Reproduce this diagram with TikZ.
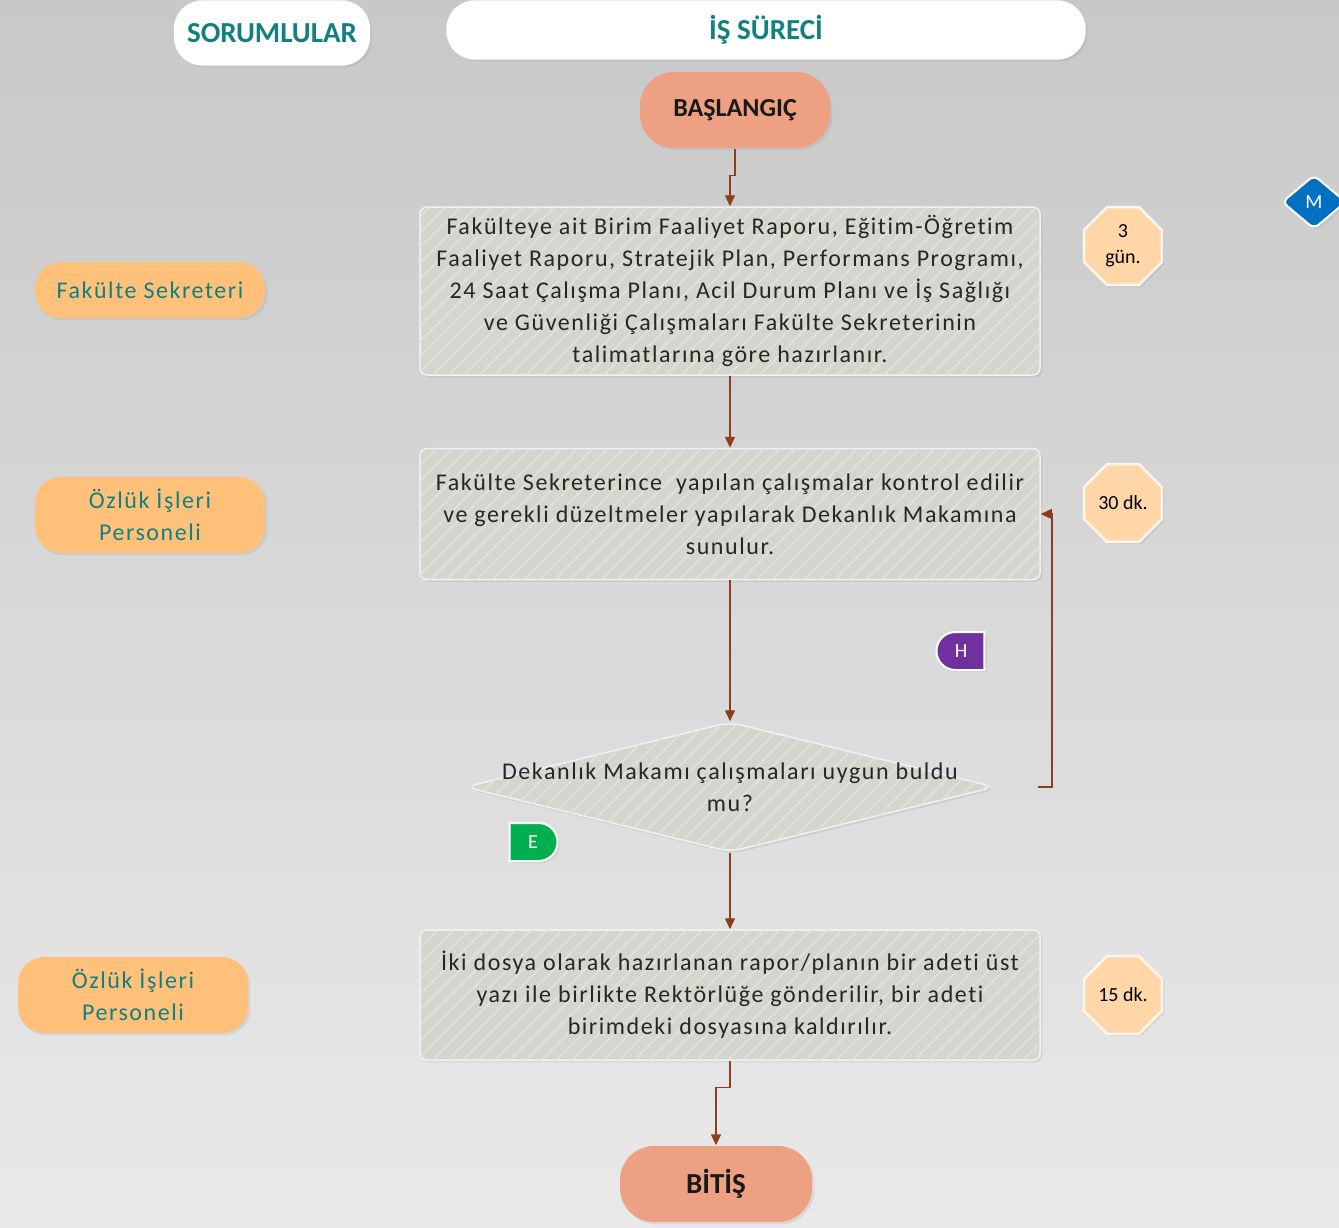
\documentclass[tikz,border=0pt]{standalone}
\usepackage{fontspec}
\setmainfont{Carlito}
\newfontfamily\wideface[LetterSpace=6.5,Ligatures=NoCommon]{Carlito}
\usetikzlibrary{shapes,arrows.meta,shadows,patterns.meta}
\definecolor{bgtop}{RGB}{200,200,200}
\definecolor{bgbot}{RGB}{233,233,233}
\definecolor{tealtxt}{RGB}{18,128,128}
\definecolor{salmon}{RGB}{237,161,130}
\definecolor{lane}{RGB}{255,192,122}
\definecolor{boxfill}{RGB}{212,214,205}
\definecolor{hatch}{RGB}{226,227,221}
\definecolor{flowline}{RGB}{140,62,30}
\definecolor{peach}{RGB}{255,214,168}
\definecolor{mblue}{RGB}{0,112,192}
\definecolor{hpurple}{RGB}{112,48,160}
\definecolor{egreen}{RGB}{0,176,80}

\begin{document}
\begin{tikzpicture}[x=1pt,y=-1pt,>={Triangle[length=11pt,width=10pt]},line width=1.4pt]
\tikzstyle{header}=[draw=white,fill=white,rounded corners=28pt,text=tealtxt,font={\fontsize{29}{32}\bfseries\selectfont},drop shadow={opacity=0.15}]
\tikzstyle{terminal}=[fill=salmon,rounded corners=34pt,minimum height=76pt,text=black!90,drop shadow={opacity=0.15}]
\tikzstyle{process}=[draw=white!90!gray,line width=1.5pt,fill=boxfill,rounded corners=7pt,minimum width=620pt,align=center,text=black!85,font={\wideface\fontsize{24}{32}\selectfont},drop shadow={opacity=0.15},postaction={pattern={Lines[angle=45,distance=11pt,line width=1.4pt]},pattern color=hatch}]
\tikzstyle{decision}=[diamond,draw=white!90!gray,line width=1.5pt,fill=boxfill,rounded corners=12pt,minimum width=530pt,minimum height=130pt,inner sep=0pt,drop shadow={opacity=0.15},postaction={pattern={Lines[angle=45,distance=11pt,line width=1.4pt]},pattern color=hatch}]
\tikzstyle{role}=[fill=lane,rounded corners=26pt,minimum width=230pt,align=center,text=tealtxt,font={\wideface\fontsize{24}{32}\selectfont},drop shadow={opacity=0.15}]
\tikzstyle{timebox}=[regular polygon,regular polygon sides=8,draw=white!92!orange,line width=2.5pt,fill=peach,minimum size=84pt,inner sep=0pt,align=center,font={\fontsize{20}{26}\selectfont},drop shadow={opacity=0.15}]
\tikzstyle{flag}=[rounded rectangle,draw=white,line width=2pt,text=white,minimum width=48pt,minimum height=38pt,inner sep=0pt,font={\fontsize{20}{22}\selectfont},drop shadow={opacity=0.15}]
\useasboundingbox (0,0) rectangle (1339,1228);
\shade[top color=bgtop,bottom color=bgbot] (0,0) rectangle (1339,1228);

\node[header,minimum width=195pt,minimum height=64pt] (sorum) at (272,33) {SORUMLULAR};
\node[header,minimum width=638pt,minimum height=58pt] (surec) at (766,30) {İŞ SÜRECİ};

\node[terminal,minimum width=190pt,font={\fontsize{26}{28}\bfseries\selectfont}] (basla) at (735,110) {BAŞLANGIÇ};
\node[process,minimum height=168pt] (hazir) at (730,291) {Fakülteye ait Birim Faaliyet Raporu, Eğitim-Öğretim\\Faaliyet Raporu, Stratejik Plan, Performans Programı,\\24 Saat Çalışma Planı, Acil Durum Planı ve İş Sağlığı\\ve Güvenliği Çalışmaları Fakülte Sekreterinin\\talimatlarına göre hazırlanır.};
\node[process,minimum height=131pt] (kontrol) at (730,514) {Fakülte Sekreterince\ \ yapılan çalışmalar kontrol edilir\\ve gerekli düzeltmeler yapılarak Dekanlık Makamına\\sunulur.};
\node[decision,label={[align=center,text=black!85,font={\wideface\fontsize{24}{32}\selectfont}]center:Dekanlık Makamı çalışmaları uygun buldu\\mu?}] (uygun) at (730,787) {};
\node[process,minimum height=130pt] (gonder) at (730,995) {İki dosya olarak hazırlanan rapor/planın bir adeti üst\\yazı ile birlikte Rektörlüğe gönderilir, bir adeti\\birimdeki dosyasına kaldırılır.};
\node[terminal,minimum width=192pt,font={\fontsize{29}{30}\bfseries\selectfont}] (bitis) at (716,1184) {BİTİŞ};

\node[role,minimum height=56pt] (sekreter) at (150,290) {Fakülte Sekreteri};
\node[role,minimum height=76pt] (ozluk1) at (150,515) {Özlük İşleri\\Personeli};
\node[role,minimum height=76pt] (ozluk2) at (133,995) {Özlük İşleri\\Personeli};

\node[timebox] (sure1) at (1123,246) {3\\gün.};
\node[timebox] (sure2) at (1123,503) {30 dk.};
\node[timebox] (sure3) at (1123,995) {15 dk.};

\node[diamond,draw=white,line width=2pt,fill=mblue,rounded corners=6pt,minimum width=64pt,minimum height=54pt,inner sep=0pt,text=white,font={\fontsize{20}{22}\selectfont},drop shadow={opacity=0.15}] (mflag) at (1314,202) {M};
\node[flag,fill=hpurple,rounded rectangle right arc=none] (hflag) at (961,651) {H};
\node[flag,fill=egreen,rounded rectangle left arc=none] (eflag) at (533,842) {E};

\coordinate (geri) at (1038,787);
\draw[->,flowline] (basla.south) -- ++(0,27) -| (hazir.north);
\draw[->,flowline] (hazir) -- (kontrol);
\draw[->,flowline] (kontrol) -- (uygun);
\draw[->,flowline] (uygun) -- (gonder);
\draw[->,flowline] (geri) -- ++(14,0) |- (kontrol.east);
\draw[->,flowline] (gonder.south) -- ++(0,27) -| (bitis.north);
\end{tikzpicture}
\end{document}
